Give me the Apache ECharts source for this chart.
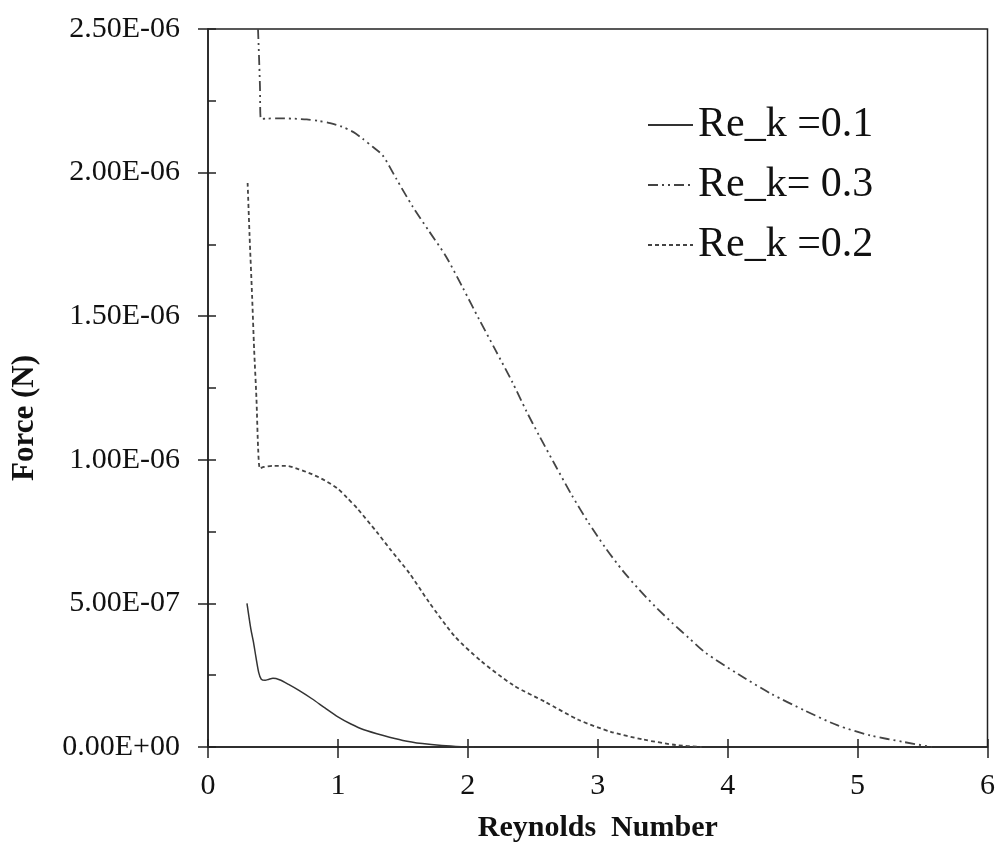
<!DOCTYPE html>
<html>
<head>
<meta charset="utf-8">
<title>Force vs Reynolds Number</title>
<script src="https://cdn.jsdelivr.net/npm/echarts@6/dist/echarts.min.js"></script>
<style>
  html, body { margin: 0; padding: 0; background: #fff; }
  #chart { width: 998px; height: 848px; }
</style>
</head>
<body>
<div id="chart"></div>
<script>
// force values are in 1e-6 N, labels are converted back to N
var legendNames = ['Re_k =0.1', 'Re_k= 0.3', 'Re_k =0.2'];

var re01X = [0.30, 0.33, 0.35, 0.37, 0.39, 0.41, 0.44, 0.47, 0.50, 0.55, 0.62, 0.70, 0.80, 0.90, 1.00,
    1.10, 1.20, 1.35, 1.50, 1.65, 1.80, 1.95, 2.05];
var re01Y = [0.500, 0.410, 0.365, 0.310, 0.260, 0.236, 0.232, 0.236, 0.239, 0.234, 0.218, 0.197, 0.168,
    0.136, 0.105, 0.080, 0.060, 0.040, 0.023, 0.012, 0.005, 0.001, 0.000];

var re02X = [0.305, 0.32, 0.34, 0.355, 0.373, 0.386, 0.40, 0.43, 0.50, 0.60, 0.70, 0.80, 0.90, 1.00,
    1.07, 1.15, 1.30, 1.40, 1.55, 1.70, 1.90, 2.10, 2.35, 2.60, 2.85, 3.10, 3.35, 3.60, 3.80];
var re02Y = [1.964, 1.780, 1.564, 1.385, 1.212, 1.039, 0.970, 0.975, 0.979, 0.979, 0.967, 0.950, 0.928,
    0.899, 0.868, 0.830, 0.748, 0.690, 0.605, 0.505, 0.385, 0.300, 0.215, 0.156, 0.095, 0.053, 0.026,
    0.007, 0.000];

var re03X = [0.385, 0.393, 0.400, 0.407, 0.45, 0.53, 0.65, 0.76, 0.85, 0.94, 1.03, 1.12, 1.19, 1.27,
    1.345, 1.45, 1.576, 1.70, 1.832, 1.96, 2.087, 2.215, 2.343, 2.45, 2.548, 2.68, 2.80, 2.93, 3.06,
    3.19, 3.315, 3.44, 3.571, 3.70, 3.827, 4.08, 4.336, 4.593, 4.848, 5.10, 5.36, 5.57];
var re03Y = [2.500, 2.400, 2.300, 2.187, 2.188, 2.189, 2.188, 2.185, 2.180, 2.172, 2.160, 2.141, 2.118,
    2.089, 2.060, 1.978, 1.881, 1.797, 1.708, 1.600, 1.489, 1.380, 1.270, 1.170, 1.085, 0.975, 0.877,
    0.780, 0.693, 0.615, 0.550, 0.490, 0.433, 0.380, 0.329, 0.254, 0.185, 0.127, 0.075, 0.040, 0.017, 0.000];

var xTicks = [0, 6, 1];
var yTicks = [0, 2.5, 0.5];

function pairs(xs, ys) {
    var out = [];
    for (var i = 0; i < xs.length; i++) out.push([xs[i], ys[i]]);
    return out;
}

function sciLabel(v) {
    var s = (v * 1e-6).toExponential(2);
    if (v === 0) s = '0.00e+0';
    var p = s.split('e');
    var e = parseInt(p[1], 10);
    var a = Math.abs(e);
    return p[0] + 'E' + (e < 0 ? '-' : '+') + (a < 10 ? '0' : '') + a;
}

var font = 'Liberation Serif';
var axisLine = {show: true, lineStyle: {color: '#222', width: 1.5}};

var chart = echarts.init(document.getElementById('chart'));
chart.setOption({
    animation: false,
    backgroundColor: '#fff',
    grid: {left: 208, right: 10, top: 29, bottom: 98, show: true, borderColor: '#222', borderWidth: 1.5},
    legend: {
        data: legendNames,
        orient: 'vertical',
        left: 647,
        top: 104,
        padding: 0,
        itemWidth: 45,
        itemHeight: 14,
        itemGap: 18,
        itemStyle: {opacity: 0},
        textStyle: {fontFamily: font, fontSize: 42, lineHeight: 42, color: '#111'}
    },
    xAxis: [{
        type: 'value', min: xTicks[0], max: xTicks[1], interval: xTicks[2],
        axisLine: axisLine,
        axisTick: {show: true, inside: true, length: 8, lineStyle: {color: '#222', width: 1.5}},
        splitLine: {show: false},
        axisLabel: {fontFamily: font, fontSize: 30, color: '#111', margin: 24},
        name: 'Reynolds  Number',
        nameLocation: 'middle',
        nameGap: 66,
        nameTextStyle: {fontFamily: font, fontSize: 30, fontWeight: 'bold', color: '#111'}
    }, {
        type: 'value', position: 'bottom', min: xTicks[0], max: xTicks[1], interval: xTicks[2],
        axisLine: {show: false},
        axisTick: {show: true, inside: false, length: 11, lineStyle: {color: '#222', width: 1.5}},
        splitLine: {show: false},
        axisLabel: {show: false}
    }],
    yAxis: [{
        type: 'value', min: yTicks[0], max: yTicks[1], interval: yTicks[2],
        axisLine: axisLine,
        axisTick: {show: true, inside: true, length: 8, lineStyle: {color: '#222', width: 1.5}},
        minorTick: {show: true, splitNumber: 2, length: 8, lineStyle: {color: '#222', width: 1.5}},
        splitLine: {show: false},
        axisLabel: {fontFamily: font, fontSize: 30, color: '#111', margin: 28, formatter: sciLabel},
        name: 'Force (N)',
        nameLocation: 'middle',
        nameGap: 168,
        nameTextStyle: {fontFamily: font, fontSize: 31, fontWeight: 'bold', color: '#111', padding: [0, 60, 0, 0]}
    }, {
        type: 'value', position: 'left', min: yTicks[0], max: yTicks[1], interval: yTicks[2],
        axisLine: {show: false},
        axisTick: {show: true, inside: false, length: 10, lineStyle: {color: '#222', width: 1.5}},
        splitLine: {show: false},
        axisLabel: {show: false}
    }],
    series: [{
        name: legendNames[0],
        type: 'line',
        symbol: 'none',
        smooth: 0.25,
        data: pairs(re01X, re01Y),
        lineStyle: {color: '#333', width: 1.5, type: 'solid'},
        itemStyle: {color: '#333'}
    }, {
        name: legendNames[1],
        type: 'line',
        symbol: 'none',
        smooth: 0.25,
        data: pairs(re03X, re03Y),
        lineStyle: {color: '#444', width: 1.8, type: [10, 4, 2, 4, 2, 4]},
        itemStyle: {color: '#444'}
    }, {
        name: legendNames[2],
        type: 'line',
        symbol: 'none',
        smooth: 0.25,
        data: pairs(re02X, re02Y),
        lineStyle: {color: '#444', width: 1.8, type: [4, 3]},
        itemStyle: {color: '#444'}
    }]
});
</script>
</body>
</html>
